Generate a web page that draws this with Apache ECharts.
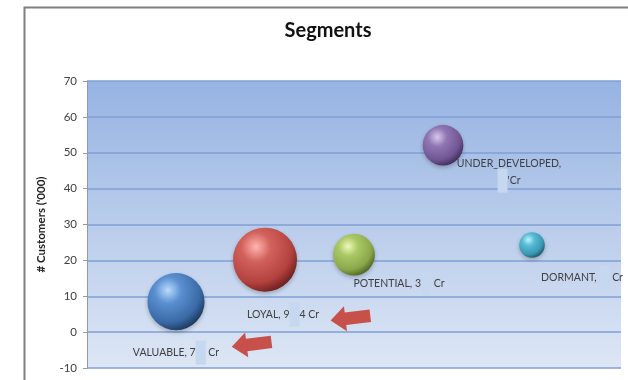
<!DOCTYPE html>
<html><head><meta charset="utf-8">
<script src="https://cdn.jsdelivr.net/npm/echarts@6/dist/echarts.min.js"></script>
<style>html,body{margin:0;padding:0;background:#fff}#c{width:628px;height:380px}</style>
</head><body><div id="c"></div>
<script>
// ---- data ----
const segments = ['VALUABLE', 'LOYAL', 'POTENTIAL', 'UNDER_DEVELOPED', 'DORMANT'];
const segmentX = [1, 2, 3, 4, 5];
const customers = [8.5, 20.2, 21.6, 52.1, 24.3];      // # Customers ('000)
const revenueCr = [75, 94, 40, 38, 15];               // bubble size (Cr)
const labelBefore = ['VALUABLE, 7', 'LOYAL, 9', 'POTENTIAL, 3', 'UNDER_DEVELOPED,', 'DORMANT, '];
const labelAfter = [' Cr', '4 Cr', ' Cr', '\'Cr', ' Cr'];
const yTicks = [-10, 0, 10, 20, 30, 40, 50, 60, 70];
const arrowX = [1.85, 2.96];
const arrowY = [-3.4, 3.9];

// ---- styles ----
const sphereColors = [
  ['#b9dbff', '#5a8fd0', '#3a6aa6', '#142d4e'],
  ['#ffb5b0', '#d2605b', '#b3413e', '#5c1816'],
  ['#eef8b8', '#a9c865', '#8aa84a', '#43561c'],
  ['#d8c8ee', '#9077b4', '#715593', '#33244a'],
  ['#bff2ff', '#58bcd6', '#3a98b2', '#154b5a']
];
const labelOffsets = [[0, 51], [18, 55], [45, 29], [66, 30], [50, 33]];

function sphere(c) {
  return {
    type: 'radial', x: 0.36, y: 0.3, r: 0.78,
    colorStops: [
      { offset: 0, color: c[0] },
      { offset: 0.3, color: c[1] },
      { offset: 0.72, color: c[2] },
      { offset: 1, color: c[3] }
    ]
  };
}

const bubbleData = segments.map((name, i) => {
  const before = labelBefore[i], after = labelAfter[i];
  const fmt = name === 'UNDER_DEVELOPED'
    ? '{t|' + before + '}\n{m|}{t|' + after + '}'
    : '{t|' + before + '}{m|}{t|' + after + '}';
  return {
    name: name,
    value: [segmentX[i], customers[i], revenueCr[i]],
    itemStyle: { color: sphere(sphereColors[i]) },
    label: { show: true, position: 'inside', offset: labelOffsets[i], formatter: fmt }
  };
});

const arrowPath = 'path://M0,12 L15,0 L15,6 L40,6 L40,18 L15,18 L15,24 Z';

const chart = echarts.init(document.getElementById('c'), null, { renderer: 'canvas' });
chart.setOption({
  animation: false,
  backgroundColor: '#ffffff',
  title: {
    text: 'Segments', left: 323, top: 16, textAlign: 'center',
    textStyle: { fontFamily: 'Lato', fontWeight: 'bold', fontSize: 20, color: '#111' }
  },
  graphic: [{
    type: 'rect', left: 22, top: 5, shape: { width: 640, height: 420 },
    style: { fill: 'none', stroke: '#808080', lineWidth: 2 }, silent: true, z: -1
  }],
  grid: {
    left: 87, right: 7, top: 81, bottom: 12, show: true, borderWidth: 0,
    backgroundColor: {
      type: 'linear', x: 0, y: 0, x2: 0, y2: 1,
      colorStops: [{ offset: 0, color: '#96b3e2' }, { offset: 1, color: '#dde6f4' }]
    }
  },
  xAxis: {
    type: 'value', min: 0, max: 6, show: false
  },
  yAxis: {
    type: 'value', min: yTicks[0], max: yTicks[yTicks.length - 1], interval: 10,
    name: "# Customers ('000)", nameLocation: 'middle', nameGap: 40,
    nameTextStyle: { fontFamily: 'Lato', fontWeight: 'bold', fontSize: 11.5, color: '#222' },
    axisLine: { show: true, lineStyle: { color: '#9a9a9a', width: 1 } },
    axisTick: { show: true, length: 4, lineStyle: { color: '#9a9a9a' } },
    axisLabel: { fontFamily: 'Lato', fontSize: 11.5, color: '#404040', margin: 10 },
    splitLine: { show: true, lineStyle: { color: '#7f9fd6', width: 1.5 } }
  },
  series: [
    {
      type: 'scatter',
      data: bubbleData,
      symbolSize: v => 6.6 * Math.sqrt(v[2]),
      itemStyle: { shadowBlur: 4, shadowColor: 'rgba(0,0,0,0.25)', shadowOffsetY: 2, opacity: 1 },
      label: {
        color: '#404040',
        rich: {
          t: { fontFamily: 'Lato', fontSize: 10.5, color: '#404040' },
          m: { width: 10, height: 24, backgroundColor: '#c6d7f0' }
        }
      },
      z: 3
    },
    {
      type: 'scatter',
      data: [],
      markPoint: {
        symbol: arrowPath,
        symbolSize: [40, 25],
        symbolRotate: 7,
        itemStyle: { color: '#c8504b' },
        label: { show: false },
        data: arrowX.map((x, i) => ({ coord: [x, arrowY[i]] }))
      },
      z: 4
    }
  ]
});
</script>
</body></html>
